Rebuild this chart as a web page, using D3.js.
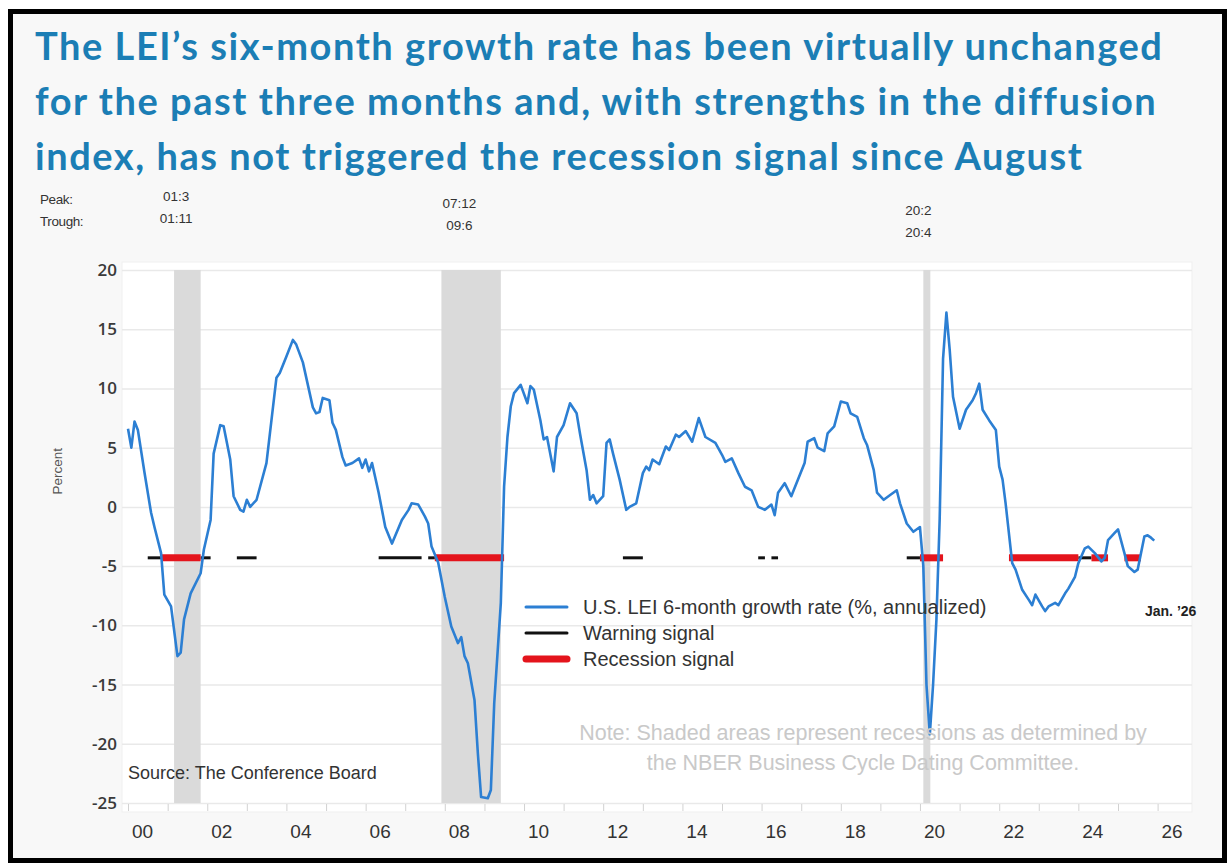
<!DOCTYPE html>
<html>
<head>
<meta charset="utf-8">
<script src="https://cdn.jsdelivr.net/npm/d3@7"></script>
<style>
  html, body { margin: 0; padding: 0; background: #ffffff; }
  svg { display: block; }
</style>
</head>
<body>
<svg id="chart" width="1230" height="865"></svg>
<script>
// U.S. LEI six-month growth rate (%, annualized), monthly readings
const leiDates = [
  "2000-01","2000-02","2000-03","2000-04","2000-06","2000-08","2000-09","2000-11","2000-12",
  "2001-02","2001-04","2001-05","2001-06","2001-08","2001-11","2001-12",
  "2002-02","2002-03","2002-05","2002-06","2002-08","2002-09","2002-11","2002-12",
  "2003-01","2003-02","2003-04","2003-07","2003-10","2003-11",
  "2004-01","2004-03","2004-04","2004-06","2004-09","2004-10","2004-11","2004-12",
  "2005-02","2005-03","2005-04","2005-06","2005-07","2005-09","2005-11","2005-12",
  "2006-01","2006-02","2006-03","2006-05","2006-07","2006-09","2006-12",
  "2007-02","2007-03","2007-05","2007-07","2007-08","2007-09","2007-11",
  "2008-01","2008-03","2008-05","2008-06","2008-07","2008-08","2008-10","2008-11","2008-12",
  "2009-02","2009-03","2009-04","2009-06","2009-07","2009-08","2009-09","2009-10","2009-12",
  "2010-02","2010-03","2010-04","2010-06","2010-07","2010-08","2010-10","2010-11",
  "2011-01","2011-03","2011-05","2011-06","2011-08","2011-09","2011-10","2011-11",
  "2012-01","2012-02","2012-03","2012-04","2012-06","2012-08","2012-09","2012-11",
  "2013-01","2013-02","2013-03","2013-04","2013-06","2013-08","2013-09","2013-11","2013-12",
  "2014-02","2014-04","2014-06","2014-08","2014-11",
  "2015-01","2015-02","2015-04","2015-06","2015-08","2015-10","2015-12",
  "2016-02","2016-04","2016-05","2016-06","2016-08","2016-10","2016-12",
  "2017-02","2017-03","2017-05","2017-06","2017-08","2017-09","2017-11",
  "2018-01","2018-03","2018-04","2018-06","2018-08","2018-09","2018-11","2018-12",
  "2019-02","2019-04","2019-06","2019-07","2019-09","2019-11",
  "2020-01","2020-02","2020-03","2020-04","2020-05","2020-06","2020-07","2020-08","2020-09","2020-10","2020-11",
  "2021-01","2021-03","2021-05","2021-06","2021-07","2021-08","2021-10","2021-12",
  "2022-01","2022-02","2022-03","2022-05","2022-06","2022-08","2022-10","2022-11","2022-12",
  "2023-02","2023-03","2023-04","2023-06","2023-07","2023-09","2023-10","2023-12",
  "2024-01","2024-03","2024-04","2024-06","2024-08","2024-09","2024-10","2024-12",
  "2025-01","2025-03","2025-04","2025-06","2025-07","2025-09","2025-10","2025-11","2025-12"
];
const leiValues = [
  6.6, 5.0, 7.2, 6.5, 2.9, -0.5, -1.7, -3.9, -7.4,
  -8.4, -12.6, -12.3, -9.5, -7.3, -5.6, -3.6,
  -1.1, 4.5, 6.9, 6.8, 4.0, 0.9, -0.25, -0.4,
  0.6, 0.0, 0.6, 3.7, 10.9, 11.3,
  12.7, 14.1, 13.7, 12.2, 8.4, 7.9, 8.0, 9.2,
  9.0, 7.1, 6.5, 4.2, 3.5, 3.7, 4.1, 3.3,
  4.0, 3.0, 3.7, 1.2, -1.7, -3.1, -1.1,
  -0.25, 0.3, 0.2, -0.8, -1.4, -3.35, -4.7,
  -7.6, -10.1, -11.5, -11.0, -12.6, -13.2, -16.3, -20.8, -24.5,
  -24.6, -23.9, -16.6, -8.1, 1.7, 5.9, 8.5, 9.6, 10.3,
  8.75, 10.2, 9.9, 7.3, 5.7, 5.9, 3.0, 5.9,
  6.9, 8.75, 7.9, 6.2, 3.1, 0.6, 1.0, 0.3,
  0.9, 5.4, 5.7, 4.5, 2.3, -0.25, 0.0, 0.3,
  2.85, 3.4, 3.1, 4.0, 3.6, 5.1, 4.8, 6.1, 5.9,
  6.4, 5.5, 7.5, 5.9, 5.4,
  4.4, 3.8, 4.1, 2.85, 1.7, 1.4, 0.0,
  -0.25, 0.2, -0.7, 1.2, 2.0, 0.9, 2.3,
  3.7, 5.5, 5.8, 5.0, 4.7, 6.2, 6.8,
  8.9, 8.75, 7.9, 7.6, 5.8, 5.2, 3.1, 1.2,
  0.6, 1.0, 1.4, 0.3, -1.4, -2.1,
  -1.7, -5.0, -15.0, -19.2, -15.0, -9.5, -1.0, 12.5, 16.4, 13.3, 9.3,
  6.6, 8.2, 9.0, 9.6, 10.4, 8.2, 7.3, 6.5,
  3.4, 2.3, 0.3, -4.75, -5.3, -7.0, -7.85, -8.3, -7.4,
  -8.4, -8.8, -8.4, -8.1, -8.3, -7.3, -6.9, -5.9,
  -4.75, -3.5, -3.35, -3.9, -4.6, -4.3, -2.8, -2.2,
  -1.9, -3.9, -5.0, -5.5, -5.3, -2.5, -2.4, -2.6, -2.85
];

// NBER recessions (peak and trough months)
const recessionPeaks = ["2001-03", "2007-12", "2020-02"];
const recessionTroughs = ["2001-11", "2009-06", "2020-04"];
const peakLabels = ["01:3", "07:12", "20:2"];
const troughLabels = ["01:11", "09:6", "20:4"];

// Signal episodes drawn along the -4.3 level
const warningStarts = ["2000-07", "2001-11", "2002-10", "2006-05", "2007-08", "2012-07", "2015-12", "2016-04", "2019-09", "2024-01"];
const warningEnds   = ["2000-11", "2002-02", "2003-04", "2007-06", "2007-10", "2013-01", "2016-02", "2016-06", "2020-01", "2024-05"];
const recessionSignalStarts = ["2000-11", "2007-10", "2020-01", "2022-04", "2024-05", "2025-03"];
const recessionSignalEnds   = ["2001-11", "2009-07", "2020-08", "2024-01", "2024-10", "2025-08"];
const signalLevel = -4.3;

// Axis ticks
const yTicks = [20, 15, 10, 5, 0, -5, -10, -15, -20, -25];
const xTickYears = ["2000","2002","2004","2006","2008","2010","2012","2014","2016","2018","2020","2022","2024","2026"];

const titleLines = [
  "The LEI\u2019s six-month growth rate has been virtually unchanged",
  "for the past three months and, with strengths in the diffusion",
  "index, has not triggered the recession signal since August"
];
const legendLabels = ["U.S. LEI 6-month growth rate (%, annualized)", "Warning signal", "Recession signal"];

const parseMonth = d3.timeParse("%Y-%m");
const parseYear = d3.timeParse("%Y");

const svg = d3.select("#chart");

// outer frame and background
svg.append("rect").attr("x", 0).attr("y", 0).attr("width", 1230).attr("height", 865).attr("fill", "#ffffff");
svg.append("rect").attr("x", 10.5).attr("y", 11.5).attr("width", 1214).attr("height", 849)
  .attr("fill", "#f8f8f8").attr("stroke", "#000").attr("stroke-width", 5);

// title
const title = svg.append("text")
  .attr("font-family", "Lato, 'Open Sans', sans-serif")
  .attr("font-weight", 700)
  .attr("font-size", 38)
  .attr("letter-spacing", 1.55)
  .attr("fill", "#1b7eb5");
titleLines.forEach((t, i) => {
  title.append("tspan").attr("x", 35).attr("y", 60 + i * 55).text(t);
});

const plotLeft = 122, plotRight = 1192, plotTop = 262, plotBottom = 812;
svg.append("rect").attr("x", plotLeft).attr("y", plotTop)
  .attr("width", plotRight - plotLeft).attr("height", plotBottom - plotTop)
  .attr("fill", "#ffffff").attr("stroke", "#efefef");

const x = d3.scaleTime()
  .domain([parseMonth("2000-01"), parseMonth("2026-01")])
  .range([128, 1157.6]);
const y = d3.scaleLinear().domain([-25, 20]).range([803, 270]);

// horizontal gridlines
const grid = svg.append("g").attr("transform", `translate(${plotLeft},0)`)
  .call(d3.axisLeft(y).tickValues(yTicks).tickSize(-(plotRight - plotLeft)).tickFormat(""));
grid.select(".domain").remove();
grid.selectAll("line").attr("stroke", "#e9e9e9").attr("stroke-width", 1.5);

// recession shading
const recessions = recessionPeaks.map((p, i) => ({ peak: parseMonth(p), trough: parseMonth(recessionTroughs[i]) }));
svg.append("g").selectAll("rect").data(recessions).join("rect")
  .attr("x", d => x(d.peak))
  .attr("width", d => Math.max(7, x(d.trough) - x(d.peak)))
  .attr("y", y(20))
  .attr("height", y(-25) - y(20))
  .attr("fill", "#dadada");

// peak / trough labels
const ptFont = "Liberation Sans, Arial, sans-serif";
svg.append("text").attr("x", 40).attr("y", 204).attr("font-family", ptFont).attr("font-size", 13.5)
  .attr("fill", "#333").attr("letter-spacing", -0.4).text("Peak:");
svg.append("text").attr("x", 40).attr("y", 226).attr("font-family", ptFont).attr("font-size", 13.5)
  .attr("fill", "#333").attr("letter-spacing", -0.4).text("Trough:");
const ptOffsets = [[2, 0], [18, 7], [-5, 14]];
recessions.forEach((d, i) => {
  const cx = x(d.peak) + ptOffsets[i][0];
  svg.append("text").attr("x", cx).attr("y", 201 + ptOffsets[i][1]).attr("text-anchor", "middle")
    .attr("font-family", ptFont).attr("font-size", 13.5).attr("fill", "#333").text(peakLabels[i]);
  svg.append("text").attr("x", cx).attr("y", 223 + ptOffsets[i][1]).attr("text-anchor", "middle")
    .attr("font-family", ptFont).attr("font-size", 13.5).attr("fill", "#333").text(troughLabels[i]);
});

// y axis labels
const yAxis = svg.append("g").attr("transform", "translate(117,0)")
  .call(d3.axisLeft(y).tickValues(yTicks).tickSize(0).tickPadding(0).tickFormat(d => String(d)));
yAxis.select(".domain").remove();
yAxis.selectAll("text").attr("font-family", "'Open Sans', sans-serif").attr("font-weight", 600)
  .attr("font-size", 17).attr("fill", "#3a3a3a");

svg.append("text").attr("transform", `translate(62,${y(3)}) rotate(-90)`).attr("text-anchor", "middle")
  .attr("font-family", ptFont).attr("font-size", 13.5).attr("fill", "#555").text("Percent");

// x axis: yearly minor ticks and two-year labels
const minor = svg.append("g").attr("transform", "translate(0,811)")
  .call(d3.axisBottom(x).ticks(d3.timeYear.every(1)).tickSize(-7).tickFormat(""));
minor.select(".domain").remove();
minor.selectAll("line").attr("stroke", "#d2d2d2");

const xAxis = svg.append("g").attr("transform", "translate(0,812)")
  .call(d3.axisBottom(x).tickValues(xTickYears.map(parseYear)).tickSize(0).tickPadding(13)
    .tickFormat(d3.timeFormat("%y")));
xAxis.select(".domain").remove();
xAxis.selectAll("text").attr("dx", 14)
  .attr("font-family", "'Liberation Sans Narrow', 'Arial Narrow', 'Liberation Sans', sans-serif")
  .attr("font-size", 19).attr("fill", "#333");

// warning / recession signals
const sigY = y(signalLevel);
const warnSegs = warningStarts.map((s, i) => [parseMonth(s), parseMonth(warningEnds[i])]);
const recSegs = recessionSignalStarts.map((s, i) => [parseMonth(s), parseMonth(recessionSignalEnds[i])]);
svg.append("g").selectAll("line").data(warnSegs).join("line")
  .attr("x1", d => x(d[0])).attr("x2", d => x(d[1]))
  .attr("y1", sigY).attr("y2", sigY)
  .attr("stroke", "#111").attr("stroke-width", 3);
svg.append("g").selectAll("line").data(recSegs).join("line")
  .attr("x1", d => x(d[0])).attr("x2", d => x(d[1]))
  .attr("y1", sigY).attr("y2", sigY)
  .attr("stroke", "#e4141c").attr("stroke-width", 7);

// LEI line
const series = leiDates.map((d, i) => ({ date: parseMonth(d), value: leiValues[i] }));
svg.append("path").datum(series)
  .attr("fill", "none").attr("stroke", "#2c7fd3").attr("stroke-width", 2.6)
  .attr("stroke-linejoin", "round")
  .attr("d", d3.line().x(d => x(d.date)).y(d => y(d.value)));

// legend
const legendFont = "'Liberation Sans', Arial, sans-serif";
const legendStyles = [
  { color: "#2c7fd3", width: 3 },
  { color: "#111", width: 3 },
  { color: "#e4141c", width: 7 }
];
legendLabels.forEach((label, i) => {
  const ly = 607 + i * 26;
  svg.append("line").attr("x1", 526).attr("x2", 567).attr("y1", ly).attr("y2", ly)
    .attr("stroke", legendStyles[i].color).attr("stroke-width", legendStyles[i].width)
    .attr("stroke-linecap", "round");
  svg.append("text").attr("x", 583).attr("y", ly + 7).attr("font-family", legendFont)
    .attr("font-size", 20).attr("fill", "#333").text(label);
});

svg.append("text").attr("x", 1145).attr("y", 616).attr("font-family", legendFont)
  .attr("font-weight", 700).attr("font-size", 14).attr("fill", "#222").text("Jan. \u201926");

// source and note
svg.append("text").attr("x", 128).attr("y", 779).attr("font-family", legendFont)
  .attr("font-size", 18).attr("fill", "#333").text("Source: The Conference Board");
const note = svg.append("text").attr("text-anchor", "middle").attr("font-family", legendFont)
  .attr("font-size", 21.5).attr("fill", "#c9c9c9");
note.append("tspan").attr("x", 863).attr("y", 740).text("Note: Shaded areas represent recessions as determined by");
note.append("tspan").attr("x", 863).attr("y", 770).text("the NBER Business Cycle Dating Committee.");
</script>
</body>
</html>
